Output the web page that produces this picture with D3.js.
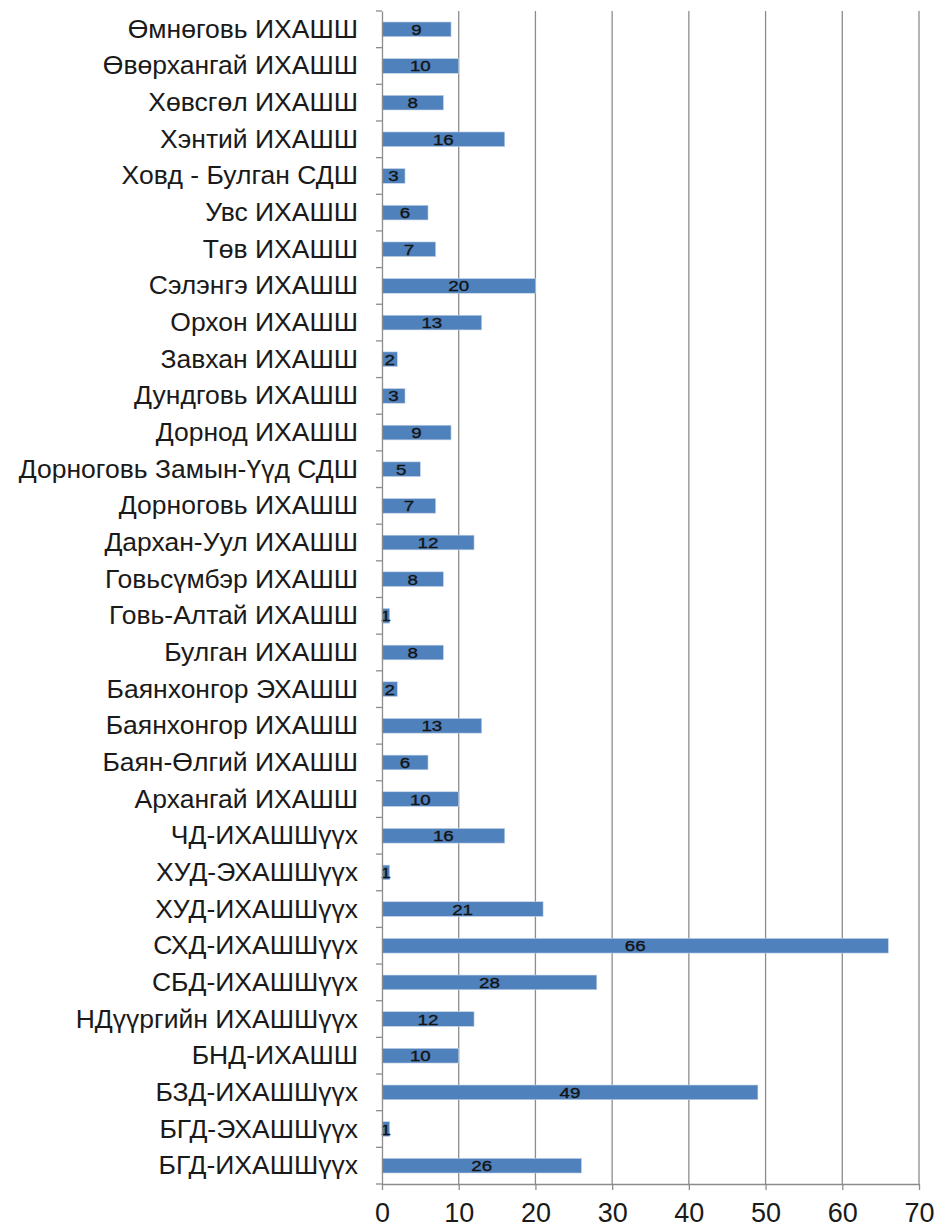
<!DOCTYPE html>
<html>
<head>
<meta charset="utf-8">
<script src="https://cdn.jsdelivr.net/npm/d3@7"></script>
<style>
  body { margin: 0; background: #fff; }
  text { font-family: "Liberation Sans", Arial, sans-serif; }
</style>
</head>
<body>
<script>
// categories top to bottom
var courts = [
  "Өмнөговь ИХАШШ", "Өвөрхангай ИХАШШ", "Хөвсгөл ИХАШШ", "Хэнтий ИХАШШ",
  "Ховд - Булган СДШ", "Увс ИХАШШ", "Төв ИХАШШ", "Сэлэнгэ ИХАШШ",
  "Орхон ИХАШШ", "Завхан ИХАШШ", "Дундговь ИХАШШ", "Дорнод ИХАШШ",
  "Дорноговь Замын-Үүд СДШ", "Дорноговь ИХАШШ", "Дархан-Уул ИХАШШ", "Говьсүмбэр ИХАШШ",
  "Говь-Алтай ИХАШШ", "Булган ИХАШШ", "Баянхонгор ЭХАШШ", "Баянхонгор ИХАШШ",
  "Баян-Өлгий ИХАШШ", "Архангай ИХАШШ", "ЧД-ИХАШШүүх", "ХУД-ЭХАШШүүх",
  "ХУД-ИХАШШүүх", "СХД-ИХАШШүүх", "СБД-ИХАШШүүх", "НДүүргийн ИХАШШүүх",
  "БНД-ИХАШШ", "БЗД-ИХАШШүүх", "БГД-ЭХАШШүүх", "БГД-ИХАШШүүх"
];
var counts = [
  9, 10, 8, 16,
  3, 6, 7, 20,
  13, 2, 3, 9,
  5, 7, 12, 8,
  1, 8, 2, 13,
  6, 10, 16, 1,
  21, 66, 28, 12,
  10, 49, 1, 26
];
var xTicks = [0, 10, 20, 30, 40, 50, 60, 70];

var w = 941;
var h = 1229;
var plotLeft = 382, plotRight = 919, plotTop = 11, plotBottom = 1184;

var svg = d3.select("body")
    .append("svg")
    .attr("width", w)
    .attr("height", h);

var x = d3.scaleLinear().domain([0, 70]).range([plotLeft, plotRight]);
var y = d3.scaleBand().domain(courts).range([plotTop, plotBottom]).paddingInner(0.6).paddingOuter(0.3);

// vertical gridlines
svg.selectAll("line.grid")
   .data(xTicks.slice(1))
   .enter()
   .append("line")
   .attr("class", "grid")
   .attr("x1", function(d) { return x(d); })
   .attr("x2", function(d) { return x(d); })
   .attr("y1", plotTop)
   .attr("y2", plotBottom)
   .attr("stroke", "#8c8c8c")
   .attr("stroke-width", 1.3);

// bars
svg.selectAll("rect")
   .data(counts)
   .enter()
   .append("rect")
   .attr("x", x(0))
   .attr("y", function(d, i) { return y(courts[i]); })
   .attr("width", function(d) { return x(d) - x(0); })
   .attr("height", y.bandwidth())
   .attr("fill", "#4f81bd")
   .attr("stroke", "#c5d3e6")
   .attr("stroke-width", 0.6);

// value labels (slightly wide, like the original)
svg.selectAll("text.val")
   .data(counts)
   .enter()
   .append("text")
   .attr("class", "val")
   .text(function(d) { return d; })
   .attr("text-anchor", "middle")
   .attr("transform", function(d, i) {
        var cx = (x(d) + x(0)) / 2;
        var cy = y(courts[i]) + y.bandwidth() / 2 + 5.5;
        return "translate(" + cx + "," + cy + ") scale(1.25,1)";
   })
   .attr("font-size", "15px")
   .attr("fill", "#141414")
   .attr("stroke", "#141414")
   .attr("stroke-width", 0.35);

// y axis
var yAxis = svg.append("g")
   .attr("transform", "translate(" + plotLeft + ",0)")
   .call(d3.axisLeft(y).tickSize(0).tickPadding(24));
yAxis.select(".domain").attr("stroke", "#8c8c8c").attr("stroke-width", 1.3);
yAxis.selectAll("text").attr("font-size", "26.5px").attr("fill", "#1a1a1a")
   .attr("font-family", "'Liberation Sans', Arial, sans-serif");

// category boundary ticks
var step = (plotBottom - plotTop) / courts.length;
svg.selectAll("line.ytick")
   .data(d3.range(courts.length + 1))
   .enter()
   .append("line")
   .attr("class", "ytick")
   .attr("x1", plotLeft - 6)
   .attr("x2", plotLeft)
   .attr("y1", function(d) { return plotTop + d * step; })
   .attr("y2", function(d) { return plotTop + d * step; })
   .attr("stroke", "#8c8c8c")
   .attr("stroke-width", 1.3);

// x axis
var xAxis = svg.append("g")
   .attr("transform", "translate(0," + plotBottom + ")")
   .call(d3.axisBottom(x).tickValues(xTicks).tickSize(6).tickPadding(13).tickSizeOuter(0));
xAxis.select(".domain").attr("stroke", "#8c8c8c").attr("stroke-width", 1.3);
xAxis.selectAll("line").attr("stroke", "#8c8c8c").attr("stroke-width", 1.3);
xAxis.selectAll("text").attr("font-size", "27px").attr("fill", "#1a1a1a")
   .attr("font-family", "'Liberation Sans', Arial, sans-serif");
</script>
</body>
</html>
